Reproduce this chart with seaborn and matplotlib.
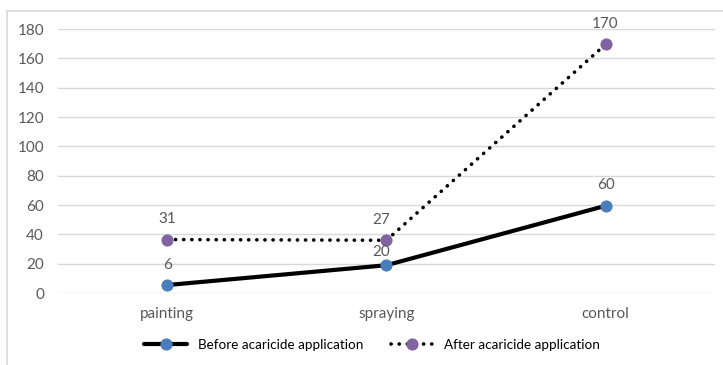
import numpy as np
import pandas as pd
import matplotlib
matplotlib.use("Agg")
import matplotlib.pyplot as plt
import seaborn as sns
from matplotlib.lines import Line2D

categories = ["painting", "spraying", "control"]
before_values = [5.5, 19, 59.5]
before_labels = ["6", "20", "60"]
after_values = [36.5, 36, 169.5]
after_labels = ["31", "27", "170"]

blue = "#4A7EBB"
purple = "#8064A2"
txt = "#595959"

sns.set_style("white")
plt.rcParams["font.family"] = ["Lato", "DejaVu Sans"]

fig = plt.figure(figsize=(7.23, 3.65), dpi=100)
ax = fig.add_axes([0.080, 0.197, 0.909, 0.7235])

sns.lineplot(x=categories, y=before_values, ax=ax, color="black", lw=3,
             marker="o", markersize=8, markerfacecolor=blue, markeredgecolor=blue,
             label="Before acaricide application", sort=False)
sns.lineplot(x=categories, y=after_values, ax=ax, color="black", lw=2.6,
             linestyle=(0, (0.05, 2.2)), dash_capstyle="round",
             marker="o", markersize=8, markerfacecolor=purple, markeredgecolor=purple,
             label="After acaricide application", sort=False)

# data labels (offsets in points, Excel pushed "20" down and left)
before_off = [(0, 14.5), (-4, 9.5), (0, 15)]
after_off = [(0, 14.5), (-4, 14.5), (0, 14.5)]
for i, (v, lab) in enumerate(zip(before_values, before_labels)):
    ax.annotate(lab, (i, v), xytext=before_off[i], textcoords="offset points",
                ha="center", va="center", fontsize=11, color=txt)
for i, (v, lab) in enumerate(zip(after_values, after_labels)):
    ax.annotate(lab, (i, v), xytext=after_off[i], textcoords="offset points",
                ha="center", va="center", fontsize=11, color=txt)

ax.set_xlim(-0.5, 2.5)
ax.set_ylim(0, 180)
ax.set_yticks(np.arange(0, 181, 20))
ax.yaxis.grid(True, color="#D9D9D9", lw=1)
ax.xaxis.grid(False)
for s in ax.spines.values():
    s.set_visible(False)
ax.tick_params(axis="both", length=0, labelsize=11, labelcolor=txt)
ax.tick_params(axis="x", pad=10)
ax.tick_params(axis="y", pad=10)
ax.set_xlabel("")
ax.set_ylabel("")

leg = ax.legend(loc="center", ncol=2, frameon=False, fontsize=9.7,
                handlelength=3.2, columnspacing=2.0, handletextpad=0.8)
leg.set_bbox_to_anchor((0.515, 0.055), transform=fig.transFigure)
for t in leg.get_texts():
    t.set_color("black")

# chart frame: only top and left edges visible
fig.add_artist(Line2D([0.010, 0.010], [0.0, 0.970], transform=fig.transFigure,
                      color="#D9D9D9", lw=1.2))
fig.add_artist(Line2D([0.010, 1.0], [0.970, 0.970], transform=fig.transFigure,
                      color="#D9D9D9", lw=1.2))

fig.savefig("out.png", dpi=100)
